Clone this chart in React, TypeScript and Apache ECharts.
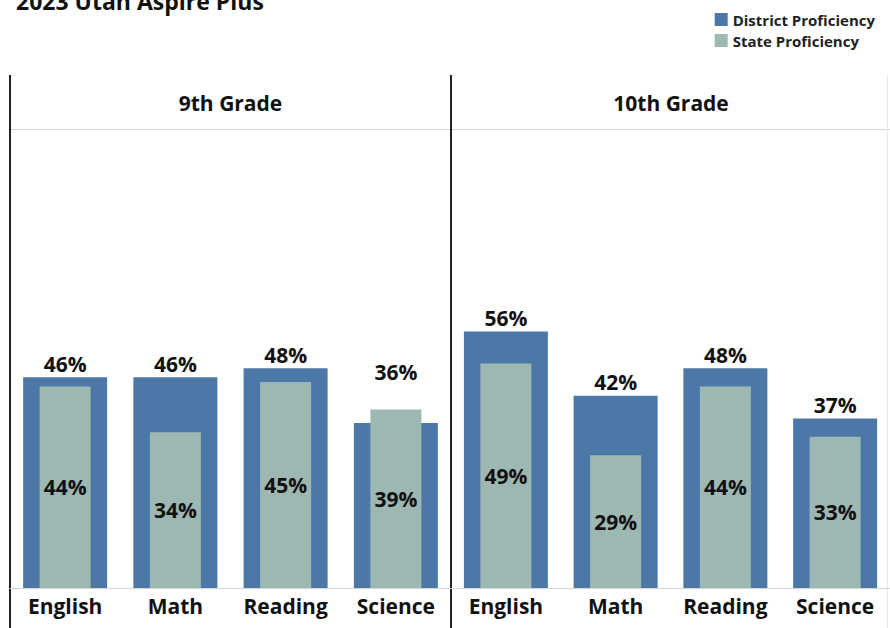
import React, { useEffect, useRef } from "react";
import * as echarts from "echarts";

const subjects = ["English", "Math", "Reading", "Science"];
const panels = ["9th Grade", "10th Grade"];
const district9 = [46, 46, 48, 36];
const state9 = [44, 34, 45, 39];
const district10 = [56, 42, 48, 37];
const state10 = [49, 29, 44, 33];
const seriesNames = ["District Proficiency", "State Proficiency"];
const title = "2023 Utah Aspire Plus";

const DISTRICT_COLOR = "#4c78a8";
const STATE_COLOR = "#9db7b2";
const FONT = "Open Sans";

export default function App() {
  const ref = useRef<HTMLDivElement>(null);
  useEffect(() => {
    if (!ref.current) return;
    const chart = echarts.init(ref.current, null, { renderer: "svg" });
    const districts = [district9, district10];
    const states = [state9, state10];
    const grids = [
      { left: 10, top: 130, width: 441, height: 458 },
      { left: 451, top: 130, width: 439, height: 458 },
    ];
    const xAxes: any[] = [];
    const yAxes: any[] = [];
    const series: any[] = [];
    const labelStyle = {
      fontFamily: FONT,
      fontWeight: "bold",
      fontSize: 21,
      color: "#111",
    };
    grids.forEach((g, gi) => {
      xAxes.push({
        type: "category",
        gridIndex: gi,
        data: subjects,
        axisLine: { show: true, lineStyle: { color: "#d4d4d4", width: 1 } },
        axisTick: { show: false },
        axisLabel: { ...labelStyle, margin: 7, fontSize: 21 },
      });
      xAxes.push({
        type: "category",
        gridIndex: gi,
        data: subjects,
        show: false,
      });
      yAxes.push({
        type: "value",
        gridIndex: gi,
        min: 0,
        max: 100,
        show: false,
        splitLine: { show: false },
      });
      const dvals = districts[gi];
      const svals = states[gi];
      series.push({
        name: seriesNames[0],
        type: "bar",
        xAxisIndex: gi * 2,
        yAxisIndex: gi,
        barWidth: 84,
        itemStyle: { color: DISTRICT_COLOR },
        label: {
          show: true,
          position: "top",
          distance: 3,
          formatter: "{c}%",
          ...labelStyle,
        },
        data: dvals.map((v, i) => {
          if (svals[i] > v) {
            return { value: v, label: { offset: [0, -38] } };
          }
          return v;
        }),
      });
      series.push({
        name: seriesNames[1],
        type: "bar",
        xAxisIndex: gi * 2 + 1,
        yAxisIndex: gi,
        barWidth: 51,
        itemStyle: { color: STATE_COLOR },
        label: {
          show: true,
          position: "inside",
          formatter: "{c}%",
          ...labelStyle,
        },
        data: svals,
      });
    });

    const lineColor = "#222";
    chart.setOption({
      animation: false,
      legend: {
        data: seriesNames,
        orient: "vertical",
        right: 10,
        top: 7,
        itemWidth: 13,
        itemHeight: 13,
        itemGap: 6,
        icon: "rect",
        textStyle: {
          fontFamily: FONT,
          fontWeight: "bold",
          fontSize: 15,
          color: "#222",
        },
      },
      grid: grids,
      xAxis: xAxes,
      yAxis: yAxes,
      series,
      graphic: [
        {
          type: "text",
          left: 16,
          top: -11,
          style: {
            text: title,
            fontFamily: FONT,
            fontWeight: "bold",
            fontSize: 23,
            fill: "#111",
          },
        },
        {
          type: "line",
          shape: { x1: 10, y1: 129.5, x2: 890, y2: 129.5 },
          style: { stroke: "#d4d4d4", lineWidth: 1 },
        },
        {
          type: "line",
          shape: { x1: 10, y1: 75, x2: 10, y2: 628 },
          style: { stroke: lineColor, lineWidth: 2 },
        },
        {
          type: "line",
          shape: { x1: 451, y1: 75, x2: 451, y2: 628 },
          style: { stroke: lineColor, lineWidth: 2 },
        },
        {
          type: "line",
          shape: { x1: 887.5, y1: 75, x2: 887.5, y2: 628 },
          style: { stroke: "#e8e8e8", lineWidth: 1 },
        },
        {
          type: "text",
          x: 230.5,
          y: 103,
          style: {
            text: panels[0],
            fontFamily: FONT,
            fontWeight: "bold",
            fontSize: 21,
            fill: "#111",
            align: "center",
            verticalAlign: "middle",
          },
        },
        {
          type: "text",
          x: 671,
          y: 103,
          style: {
            text: panels[1],
            fontFamily: FONT,
            fontWeight: "bold",
            fontSize: 21,
            fill: "#111",
            align: "center",
            verticalAlign: "middle",
          },
        },
      ],
    });
    return () => chart.dispose();
  }, []);
  return (
    <div
      ref={ref}
      style={{ position: "fixed", left: 0, top: 0, width: 890, height: 628, background: "#fff" }}
    />
  );
}
